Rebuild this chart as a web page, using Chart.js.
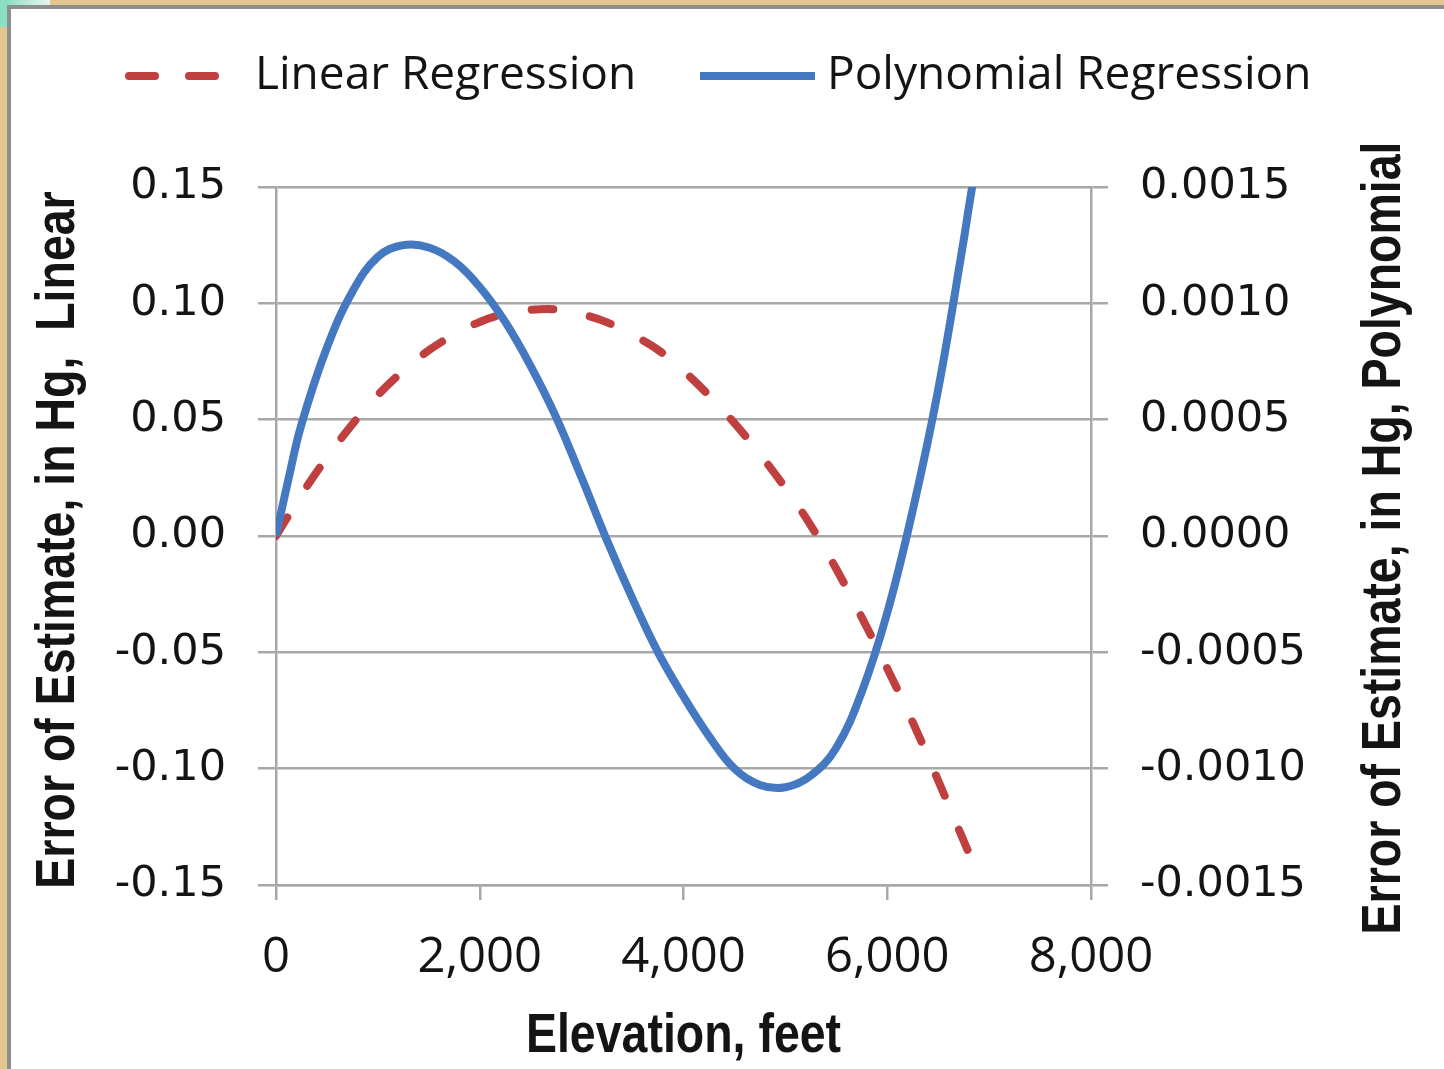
<!DOCTYPE html>
<html>
<head>
<meta charset="utf-8">
<title>Error of Estimate vs Elevation</title>
<script src="https://cdn.jsdelivr.net/npm/chart.js@4.4.1/dist/chart.umd.min.js"></script>
<style>
  html, body { margin: 0; padding: 0; }
  body { width: 1444px; height: 1069px; overflow: hidden; background: #e3c590; position: relative; }
  #corner { position: absolute; left: 0; top: 0; width: 50px; height: 5px; background: linear-gradient(to right, #7fdcbc, #e9f6ee); }
  #corner2 { position: absolute; left: 0; top: 0; width: 7px; height: 27px; background: #8ddfc2; }
  #panel { position: absolute; left: 7px; top: 5px; right: 0; bottom: 0; background: #fff;
           border-left: 4px solid #8e8e8e; border-top: 4px solid #8e8e8e; }
  #wrap { position: absolute; left: 1px; top: 1px; width: 1432px; height: 1059px; }
</style>
</head>
<body>
<div id="corner"></div>
<div id="corner2"></div>
<div id="panel">
  <div id="wrap"><canvas id="chart"></canvas></div>
</div>
<script>
/* ---------- data ---------- */
const elevationFeet = [0, 125, 250, 500, 750, 1000, 1250, 1500, 1750, 2000, 2250, 2500, 2750,
  3000, 3250, 3500, 3750, 4000, 4250, 4500, 4750, 5000, 5250, 5500, 5750, 6000, 6250,
  6500, 6750, 6800, 6900];

// left axis, in Hg
const linearError = [0, 0.0090, 0.0178, 0.0337, 0.0480, 0.0606, 0.0710, 0.0798, 0.0866, 0.0920,
  0.0955, 0.0972, 0.0974, 0.0953, 0.0918, 0.0864, 0.0800, 0.0710, 0.0604, 0.0485, 0.0352,
  0.0206, 0.0045, -0.0142, -0.0350, -0.0569, -0.0800, -0.1051, -0.1310, -0.1361, null];

// right axis, in Hg
const polynomialError = [0, 0.00025, 0.00048, 0.00081, 0.00105, 0.00120, 0.00125, 0.00124, 0.00118,
  0.00107, 0.00092, 0.00073, 0.00051, 0.00025, -0.00002, -0.00027, -0.00050, -0.00069,
  -0.00086, -0.00100, -0.00107, -0.00108, -0.00103, -0.00091, -0.00067, -0.00033, 0.00011,
  0.00063, 0.00127, 0.00141, 0.00168];

const xTicks = [0, 2000, 4000, 6000, 8000];
const linearTicks = [-0.15, -0.10, -0.05, 0, 0.05, 0.10, 0.15];
const polyTicks = [-0.0015, -0.0010, -0.0005, 0, 0.0005, 0.0010, 0.0015];

const xTitle = "Elevation, feet";
const leftTitle = "Error of Estimate, in Hg,  Linear";
const rightTitle = "Error of Estimate, in Hg, Polynomial";

/* ---------- styles ---------- */
const RED = "#c0403f";
const BLUE = "#4479c1";
const GRID = "#a8a8a8";
const INK = "#141414";

const toPoints = (ys) =>
  elevationFeet.map((x, i) => ({ x, y: ys[i] })).filter((p) => p.y !== null);

const setTicks = (values) => (scale) => {
  scale.ticks = values.map((v) => ({ value: v }));
};

// legend drawn by hand: dashed sample needs its own dash pattern
const legendSlots = [
  { x0: 117, x1: 206, dash: [26, 34], cap: "round", text: 243 },
  { x0: 688, x1: 803, dash: [], cap: "butt", text: 815 },
];

const legendLine = {
  id: "legendLine",
  afterDraw(chart) {
    const ctx = chart.ctx;
    const y = 66;
    ctx.save();
    ctx.font = '46px "Open Sans"';
    ctx.textBaseline = "middle";
    ctx.textAlign = "left";
    chart.data.datasets.forEach((ds, i) => {
      const s = legendSlots[i];
      ctx.strokeStyle = ds.borderColor;
      ctx.lineWidth = ds.borderWidth;
      ctx.lineCap = s.cap;
      ctx.setLineDash(s.dash);
      ctx.beginPath();
      ctx.moveTo(s.x0, y);
      ctx.lineTo(s.x1, y);
      ctx.stroke();
      ctx.fillStyle = INK;
      ctx.fillText(ds.label, s.text, y);
    });
    ctx.restore();
  },
};

// narrow bold axis titles; the right one reads bottom-to-top like the left one
const axisTitles = {
  id: "axisTitles",
  afterDraw(chart) {
    const ctx = chart.ctx;
    const a = chart.chartArea;
    const midY = (a.top + a.bottom) / 2;
    const items = [
      { text: xTitle, x: (a.left + a.right) / 2, y: 1042, rot: 0 },
      { text: leftTitle, x: 62, y: midY + 4, rot: -Math.PI / 2 },
      { text: rightTitle, x: chart.width - 44, y: midY + 2, rot: -Math.PI / 2 },
    ];
    ctx.save();
    ctx.font = 'bold 56px "Liberation Sans"';
    ctx.fillStyle = INK;
    ctx.textAlign = "center";
    ctx.textBaseline = "alphabetic";
    items.forEach((t) => {
      ctx.save();
      ctx.translate(t.x, t.y);
      ctx.rotate(t.rot);
      ctx.scale(0.83, 1);
      ctx.fillText(t.text, 0, 0);
      ctx.restore();
    });
    ctx.restore();
  },
};

new Chart(document.getElementById("chart"), {
  type: "line",
  data: {
    datasets: [
      {
        label: "Linear Regression",
        data: toPoints(linearError),
        yAxisID: "y",
        borderColor: RED,
        borderWidth: 8,
        borderDash: [22, 37],
        borderCapStyle: "round",
        pointRadius: 0,
        tension: 0.4,
        order: 1,
      },
      {
        label: "Polynomial Regression",
        data: toPoints(polynomialError),
        yAxisID: "y1",
        borderColor: BLUE,
        borderWidth: 8,
        pointRadius: 0,
        tension: 0.4,
        clip: 0,
        order: 0,
      },
    ],
  },
  options: {
    responsive: true,
    maintainAspectRatio: false,
    animation: false,
    layout: { padding: { top: 177, left: 0, right: 0, bottom: 0 } },
    plugins: {
      legend: { display: false },
      tooltip: { enabled: false },
    },
    scales: {
      x: {
        type: "linear",
        min: 0,
        max: 8000,
        afterBuildTicks: setTicks(xTicks),
        afterFit: (s) => { s.height = 184; },
        grid: { drawOnChartArea: false, tickLength: 15, color: GRID, lineWidth: 2.5 },
        border: { display: true, color: GRID, width: 2.5 },
        ticks: {
          padding: 29,
          color: INK,
          font: { family: "'Open Sans'", size: 49 },
          callback: (v) => Number(v).toLocaleString("en-US"),
        },
      },
      y: {
        position: "left",
        min: -0.15,
        max: 0.15,
        afterBuildTicks: setTicks(linearTicks),
        afterFit: (s) => { s.width = 264; },
        grid: { tickLength: 18, color: GRID, lineWidth: 2.5 },
        border: { display: true, color: GRID, width: 2.5 },
        ticks: {
          padding: 32,
          color: INK,
          font: { family: "'DejaVu Sans'", size: 43 },
          callback: (v) => Number(v).toFixed(2),
        },
      },
      y1: {
        position: "right",
        min: -0.0015,
        max: 0.0015,
        afterBuildTicks: setTicks(polyTicks),
        afterFit: (s) => { s.width = 353; },
        grid: { drawOnChartArea: false, tickLength: 17, color: GRID, lineWidth: 2.5 },
        border: { display: true, color: GRID, width: 2.5 },
        ticks: {
          padding: 32,
          color: INK,
          font: { family: "'DejaVu Sans'", size: 43 },
          callback: (v) => Number(v).toFixed(4),
        },
      },
    },
  },
  plugins: [legendLine, axisTitles],
});
</script>
</body>
</html>
